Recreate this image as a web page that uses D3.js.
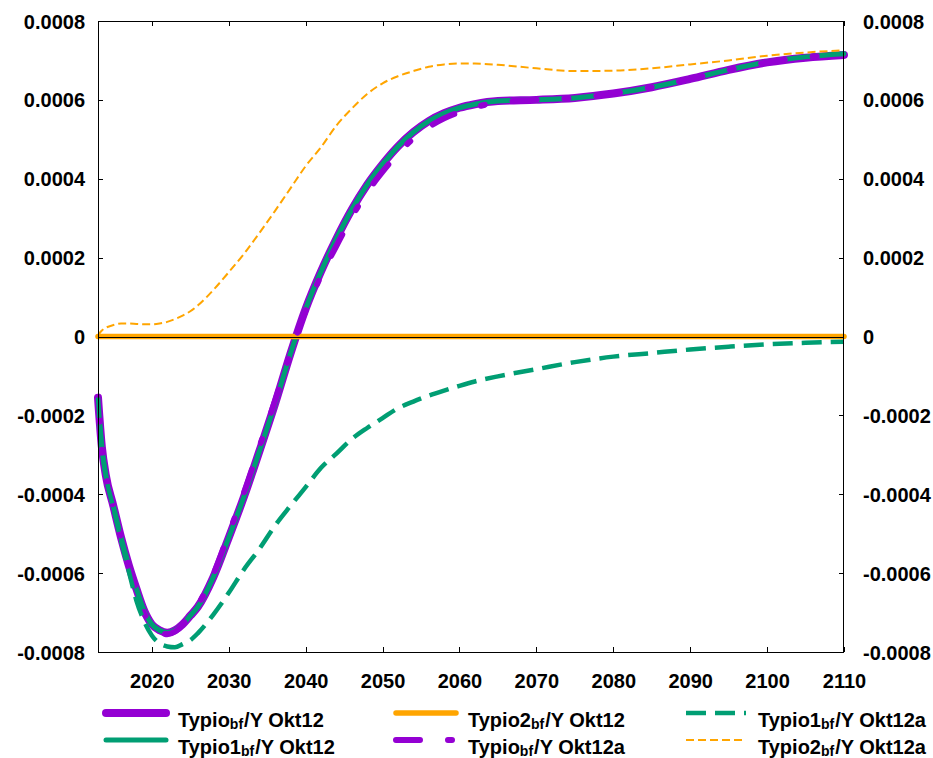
<!DOCTYPE html>
<html lang="en">
<meta charset="utf-8">
<style>
body { margin: 0; background: #fff; }
svg text {
   font-family: "Liberation Sans", Arial, sans-serif;
   font-weight: bold;
   font-size: 20px;
   fill: #000;
}
.axis path { display: none; }
.axis line { stroke: #000; stroke-width: 1px; shape-rendering: crispEdges; }
.curve { fill: none; }
</style>
<body>
<div id="chart"></div>
<script src="https://d3js.org/d3.v7.min.js"></script>
<script>
"use strict";

// ---- data ----
const years = [2013, 2013.5, 2014, 2015, 2016, 2017, 2018, 2019, 2020, 2021, 2022, 2023, 2024, 2025, 2026,
  2028, 2030, 2032, 2034, 2036, 2038, 2040, 2042, 2044, 2046, 2048, 2050, 2052, 2054, 2056, 2058, 2060,
  2062, 2065, 2070, 2075, 2080, 2085, 2090, 2095, 2100, 2105, 2110];

const typioOkt12 = [-0.000155, -0.00028, -0.00035, -0.00043, -0.00051, -0.00058, -0.00064, -0.000695, -0.00073,
  -0.000745, -0.000751, -0.000745, -0.00073, -0.000708, -0.000685, -0.00061, -0.00051, -0.000405, -0.00029,
  -0.000172, -0.000045, 0.00007, 0.000165, 0.000248, 0.000322, 0.000385, 0.000437, 0.000482, 0.000518, 0.000546,
  0.000566, 0.00058, 0.000589, 0.000597, 0.0006, 0.000605, 0.000616, 0.000632, 0.000653, 0.000676, 0.000695,
  0.000707, 0.000714];

const typio1Okt12 = [-0.000155, -0.00028, -0.00035, -0.00043, -0.00051, -0.00058, -0.00064, -0.000695, -0.00073,
  -0.000745, -0.000751, -0.000745, -0.00073, -0.000708, -0.000685, -0.00061, -0.00051, -0.000405, -0.00029,
  -0.000172, -0.000045, 0.00007, 0.000165, 0.000248, 0.000322, 0.000385, 0.000437, 0.000482, 0.000518, 0.000546,
  0.000566, 0.00058, 0.000589, 0.000597, 0.0006, 0.000605, 0.000616, 0.000632, 0.000653, 0.000676, 0.000696,
  0.000709, 0.000717];

const typio2Okt12 = [0, 0, 0, 0, 0, 0, 0, 0, 0, 0, 0, 0, 0, 0, 0, 0, 0, 0, 0, 0, 0, 0, 0, 0, 0, 0, 0, 0, 0, 0,
  0, 0, 0, 0, 0, 0, 0, 0, 0, 0, 0, 0, 0];

const typioOkt12a = [-0.000155, -0.00028, -0.00035, -0.00043, -0.00051, -0.000582, -0.000643, -0.0007, -0.000735,
  -0.00075, -0.000755, -0.000748, -0.00073, -0.000705, -0.00068, -0.000603, -0.0005, -0.000395, -0.00028,
  -0.000165, -0.000043, 0.000066, 0.000154, 0.00023, 0.000303, 0.000366, 0.000418, 0.000464, 0.000502, 0.000531,
  0.000553, 0.000569, 0.000581, 0.000594, 0.0006, 0.000605, 0.000616, 0.000632, 0.000653, 0.000676, 0.000695,
  0.000708, 0.000716];

const typio1Okt12a = [-0.000155, -0.00028, -0.00035, -0.000435, -0.000518, -0.000595, -0.00067, -0.000722,
  -0.000758, -0.000778, -0.000786, -0.000788, -0.00078, -0.00077, -0.000752, -0.000705, -0.00065, -0.00059,
  -0.000538, -0.00048, -0.00043, -0.000382, -0.000333, -0.000297, -0.00026, -0.000232, -0.000207, -0.000182,
  -0.000165, -0.00015, -0.000137, -0.000125, -0.000114, -0.000101, -0.000083, -0.000065, -0.000051, -0.000042,
  -0.000033, -0.000026, -0.00002, -0.000016, -0.000013];

const typio2Okt12a = [0.000003, 0.000015, 0.000022, 0.000029, 0.000033, 0.000033, 0.000032, 0.000031, 0.000031,
  0.000033, 0.000037, 0.000044, 0.000053, 0.000064, 0.000079, 0.000118, 0.000163, 0.00021, 0.000263, 0.000318,
  0.000375, 0.000432, 0.00048, 0.000535, 0.000578, 0.000615, 0.000642, 0.00066, 0.000673, 0.000684, 0.00069,
  0.000692, 0.000692, 0.000689, 0.00068, 0.000673, 0.000674, 0.00068, 0.00069, 0.0007, 0.000712, 0.00072,
  0.000726];

const xTicks = [2020, 2030, 2040, 2050, 2060, 2070, 2080, 2090, 2100, 2110];
const yTicks = [-0.0008, -0.0006, -0.0004, -0.0002, 0, 0.0002, 0.0004, 0.0006, 0.0008];

// label parts: [main, subscript, rest]
const labels = [
  ["Typio", "bf", "/Y Okt12"],
  ["Typio1", "bf", "/Y Okt12"],
  ["Typio2", "bf", "/Y Okt12"],
  ["Typio", "bf", "/Y Okt12a"],
  ["Typio1", "bf", "/Y Okt12a"],
  ["Typio2", "bf", "/Y Okt12a"]
];
const seriesValues = [typioOkt12, typio1Okt12, typio2Okt12, typioOkt12a, typio1Okt12a, typio2Okt12a];

// styles
const styles = [
  {color: "#9400d3", width: 8,   dash: null,          cap: "round"},
  {color: "#009e73", width: 5,   dash: null,          cap: "round"},
  {color: "#ffa500", width: 5.5, dash: null,          cap: "round"},
  {color: "#9400d3", width: 6,   dash: "24,28,4,28",  cap: "round"},
  {color: "#009e73", width: 4.5, dash: "20,9",        cap: "butt"},
  {color: "#ffa500", width: 2,   dash: "8,4",         cap: "butt"}
];

// ---- layout ----
const W = 933, H = 758;
const margin = {top: 21, right: 89, bottom: 106, left: 98};
const width = W - margin.left - margin.right;
const height = H - margin.top - margin.bottom;

const svg = d3.select("#chart").append("svg")
    .attr("width", W)
    .attr("height", H);

const g = svg.append("g")
    .attr("transform", "translate(" + margin.left + "," + margin.top + ")");

const x = d3.scaleLinear().domain([2013, 2110]).range([0, width]);
const y = d3.scaleLinear().domain([-0.0008, 0.0008]).range([height, 0]);

const fmt = d => d === 0 ? "0" : d.toFixed(4);

// ticks (inward, mirrored on all sides)
const left = g.append("g").attr("class", "axis")
    .call(d3.axisLeft(y).tickValues(yTicks).tickSize(-5).tickPadding(13).tickFormat(fmt));
left.selectAll("text").attr("dy", "0.35em");

const right = g.append("g").attr("class", "axis")
    .attr("transform", "translate(" + width + ",0)")
    .call(d3.axisRight(y).tickValues(yTicks).tickSize(-5).tickPadding(19).tickFormat(fmt));
right.selectAll("text").attr("dy", "0.35em");

const bottom = g.append("g").attr("class", "axis")
    .attr("transform", "translate(0," + height + ")")
    .call(d3.axisBottom(x).tickValues(xTicks).tickSize(-5).tickFormat(d3.format("d")));
bottom.selectAll("text").attr("y", 36).attr("dy", 0);

g.append("g").attr("class", "axis")
    .call(d3.axisTop(x).tickValues(xTicks).tickSize(-5).tickFormat(""));

// curves
const line = d3.line()
    .x((d, i) => x(years[i]))
    .y(d => y(d))
    .curve(d3.curveMonotoneX);

seriesValues.forEach(function(vals, i) {
  const s = styles[i];
  g.append("path")
      .datum(vals)
      .attr("class", "curve")
      .attr("d", line)
      .attr("stroke", s.color)
      .attr("stroke-width", s.width)
      .attr("stroke-linecap", s.cap)
      .attr("stroke-linejoin", "round")
      .attr("stroke-dasharray", s.dash);
});

// zero axis and frame
g.append("line")
    .attr("x1", 0).attr("x2", width)
    .attr("y1", Math.round(y(0)) + 0.5).attr("y2", Math.round(y(0)) + 0.5)
    .attr("stroke", "#000").attr("stroke-width", 1);

g.append("rect")
    .attr("x", 0.5).attr("y", 0.5)
    .attr("width", width - 1).attr("height", height)
    .attr("fill", "none").attr("stroke", "#000").attr("stroke-width", 1)
    .style("shape-rendering", "crispEdges");

// legend: 3 columns, 2 rows, filled column-wise
const legend = svg.append("g");
const colX = [178, 468, 758];
const rowY = [713, 740];

labels.forEach(function(lab, i) {
  const s = styles[i];
  const cx = colX[Math.floor(i / 2)], ry = rowY[i % 2];
  legend.append("line")
      .attr("x1", cx - 72).attr("x2", cx - 12)
      .attr("y1", ry).attr("y2", ry)
      .attr("stroke", s.color)
      .attr("stroke-width", s.width)
      .attr("stroke-linecap", s.cap)
      .attr("stroke-dasharray", s.dash);
  const t = legend.append("text")
      .attr("x", cx).attr("y", ry + 14);
  t.append("tspan").text(lab[0]);
  t.append("tspan").attr("dy", 2).style("font-size", "14px").text(lab[1]);
  t.append("tspan").attr("dy", -2).attr("dx", 1).text(lab[2]);
});
</script>
</body>
</html>
